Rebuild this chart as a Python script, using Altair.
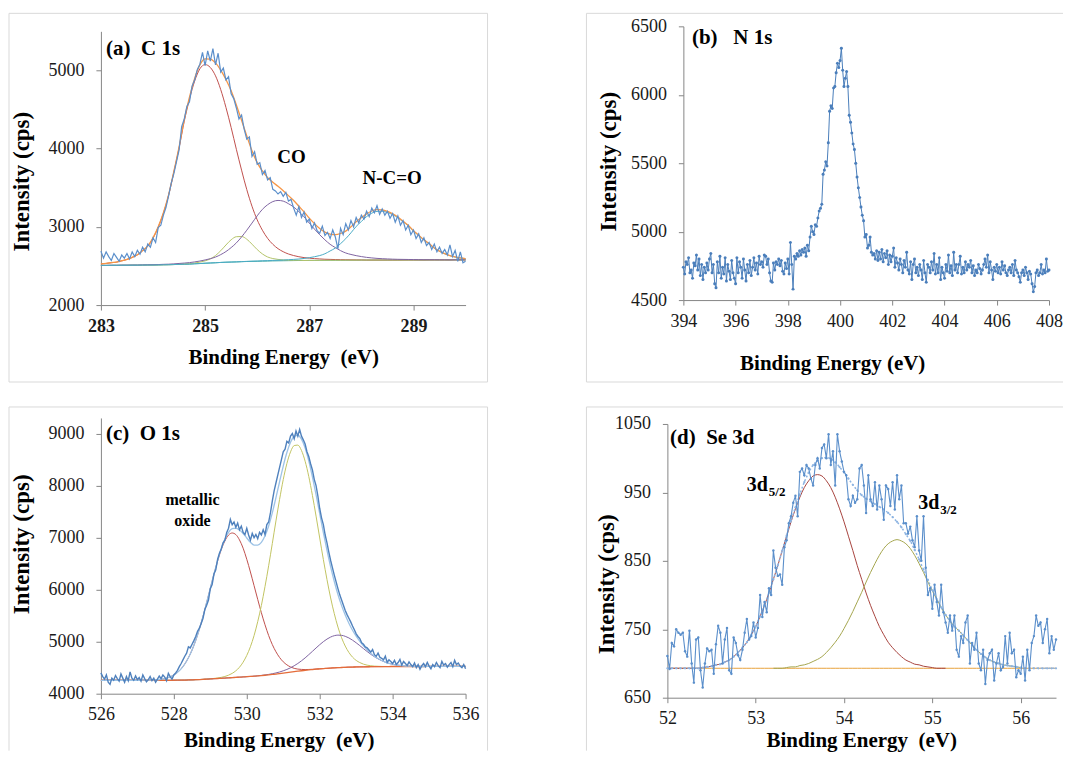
import altair as alt
import numpy as np
import pandas as pd

FONT = "Liberation Serif"
AXIS_GRAY = "#868686"
FRAME_GRAY = "#D9D9D9"
TXT = "#000000"

# ---------------- (a) C 1s ----------------
a_start, a_step = 283.0, 0.05
a_counts = [
    2690, 2600, 2680, 2620, 2570, 2660, 2610, 2560, 2640, 2600,
    2660, 2590, 2680, 2620, 2700, 2650, 2740, 2680, 2780, 2740,
    2860, 2800, 2990, 3020, 3150, 3250, 3400, 3560, 3680, 3830,
    3980, 4280, 4380, 4540, 4600, 4800, 4880, 5010, 5080, 5230,
    5060, 5250, 5120, 5280, 5070, 5220, 4980, 5030, 4880, 4920,
    4700, 4640, 4520, 4380, 4430, 4250, 4120, 4150, 3900, 3960,
    3800, 3820, 3670, 3720, 3600, 3630, 3480, 3460, 3420, 3450,
    3390, 3440, 3330, 3350, 3240, 3150, 3260, 3120, 3190, 3060,
    3100, 2980, 3050, 2950, 2920, 3010, 2890, 2930, 2850, 2960,
    2870, 2720, 2980, 2900, 3040, 2960, 3080, 3000, 3120, 3050,
    3150, 3100, 3200, 3130, 3240, 3180, 3270, 3160, 3230, 3150,
    3200, 3110, 3170, 3060, 3140, 3020, 3080, 2960, 3020, 2900,
    2960, 2850, 2910, 2800, 2860, 2760, 2800, 2710, 2780, 2680,
    2740, 2660, 2710, 2640, 2770, 2620, 2700, 2560, 2680, 2540,
    2560]
a_fit_start, a_fit_step = 283.0, 0.1
a_background = [
    2507, 2507, 2508, 2508, 2509, 2509, 2510, 2510, 2511, 2512,
    2512, 2513, 2515, 2516, 2518, 2520, 2522, 2524, 2528, 2531,
    2535, 2538, 2541, 2545, 2548, 2550, 2552, 2555, 2557, 2559,
    2560, 2562, 2563, 2565, 2566, 2567, 2568, 2569, 2570, 2570,
    2571, 2571, 2572, 2572, 2573, 2573, 2573, 2574, 2574, 2574,
    2575, 2575, 2575, 2575, 2575, 2575, 2575, 2575, 2576, 2576,
    2576, 2576, 2576, 2577, 2577, 2577, 2577, 2577, 2578, 2578,
    2578]
a_cc = [
    2527, 2532, 2541, 2549, 2565, 2583, 2609, 2642, 2694, 2753,
    2855, 2996, 3175, 3405, 3699, 4006, 4351, 4632, 4865, 5021,
    5075, 5038, 4931, 4755, 4528, 4270, 3992, 3725, 3477, 3264,
    3090, 2957, 2853, 2777, 2721, 2682, 2653, 2633, 2618, 2607,
    2600, 2594, 2590, 2586, 2584, 2582, 2580, 2579, 2578, 2577,
    2577, 2575, 2575, 2575, 2575, 2575, 2575, 2575, 2576, 2576,
    2576, 2576, 2576, 2577, 2577, 2577, 2577, 2577, 2578, 2578,
    2578]
a_small = [
    2507, 2507, 2508, 2508, 2509, 2509, 2510, 2510, 2511, 2512,
    2512, 2513, 2515, 2516, 2518, 2523, 2526, 2530, 2538, 2549,
    2565, 2590, 2633, 2695, 2768, 2835, 2874, 2877, 2842, 2779,
    2710, 2654, 2615, 2595, 2584, 2577, 2574, 2573, 2573, 2570,
    2571, 2571, 2572, 2572, 2573, 2573, 2573, 2574, 2574, 2574,
    2575, 2575, 2575, 2575, 2575, 2575, 2575, 2575, 2576, 2576,
    2576, 2576, 2576, 2577, 2577, 2577, 2577, 2577, 2578, 2578,
    2578]
a_co = [
    2508, 2508, 2509, 2509, 2511, 2511, 2512, 2512, 2514, 2515,
    2516, 2518, 2521, 2523, 2527, 2532, 2537, 2543, 2552, 2563,
    2577, 2593, 2614, 2645, 2684, 2735, 2795, 2871, 2957, 3048,
    3141, 3224, 3283, 3323, 3338, 3329, 3296, 3254, 3194, 3128,
    3048, 2971, 2899, 2834, 2777, 2735, 2696, 2666, 2647, 2632,
    2620, 2610, 2603, 2597, 2593, 2590, 2587, 2585, 2584, 2583,
    2582, 2581, 2580, 2580, 2580, 2579, 2579, 2578, 2579, 2579,
    2578]
a_nco = [
    2507, 2507, 2508, 2508, 2509, 2509, 2510, 2510, 2511, 2512,
    2512, 2513, 2515, 2516, 2518, 2520, 2522, 2524, 2528, 2531,
    2535, 2538, 2541, 2545, 2548, 2550, 2552, 2555, 2559, 2561,
    2563, 2566, 2568, 2571, 2573, 2576, 2580, 2584, 2589, 2596,
    2606, 2618, 2633, 2656, 2692, 2729, 2785, 2849, 2924, 3005,
    3069, 3131, 3175, 3198, 3199, 3184, 3156, 3116, 3064, 3014,
    2945, 2889, 2832, 2783, 2727, 2687, 2655, 2631, 2614, 2602,
    2593]
a_envelope = [
    2528, 2533, 2542, 2550, 2567, 2585, 2611, 2644, 2697, 2756,
    2859, 3001, 3181, 3412, 3708, 4021, 4370, 4657, 4899, 5071,
    5147, 5145, 5096, 5005, 4884, 4740, 4557, 4363, 4162, 3973,
    3821, 3715, 3630, 3571, 3518, 3463, 3399, 3337, 3264, 3191,
    3112, 3041, 2978, 2932, 2907, 2900, 2915, 2946, 3001, 3066,
    3116, 3166, 3203, 3220, 3217, 3199, 3168, 3126, 3072, 3021,
    2951, 2894, 2836, 2786, 2730, 2689, 2657, 2632, 2615, 2603,
    2593]
a_xticks = [283, 285, 287, 289]
a_yticks = [2000, 3000, 4000, 5000]
a_note_E = [286.66, 288.59]
a_note_I = [3894, 3626]
a_note_t = ["CO", "N-C=O"]

# ---------------- (b) N 1s ----------------
b_start, b_step = 394.0, 0.05
b_counts = [
    4740, 4690, 4780, 4760, 4810, 4700, 4720, 4660, 4770, 4750,
    4830, 4720, 4800, 4680, 4760, 4650, 4740, 4700, 4770, 4720,
    4800, 4840, 4700, 4760, 4620, 4590, 4780, 4700, 4820, 4660,
    4740, 4690, 4810, 4640, 4760, 4710, 4650, 4790, 4700, 4660,
    4620, 4810, 4700, 4780, 4740, 4660, 4800, 4720, 4640, 4760,
    4700, 4790, 4680, 4740, 4810, 4720, 4770, 4690, 4820, 4760,
    4780, 4740, 4830, 4820, 4760, 4800, 4700, 4640, 4630, 4770,
    4720, 4780, 4760, 4800, 4750, 4790, 4710, 4690, 4770, 4730,
    4800, 4690, 4920, 4760, 4580, 4820, 4800, 4840, 4820, 4860,
    4830, 4870, 4850, 4880, 4820, 4900, 4860, 4960, 5040, 5000,
    4980, 5050, 5040, 5100, 5150, 5170, 5200, 5420, 5450, 5510,
    5480, 5650, 5880, 5920, 5900, 6050, 6060, 6160, 6230, 6200,
    6250, 6340, 6180, 6060, 6120, 6170, 6060, 5850, 5800, 5720,
    5640, 5600, 5500, 5400, 5320, 5250, 5180, 5120, 5080, 4960,
    4980, 4880, 4900, 4960, 4850, 4830, 4840, 4800, 4860, 4790,
    4850, 4800, 4870, 4780, 4840, 4810, 4860, 4760, 4830, 4780,
    4820, 4880, 4740, 4810, 4770, 4720, 4800, 4760, 4700, 4790,
    4740, 4850, 4720, 4690, 4780, 4650, 4760, 4800, 4700, 4740,
    4680, 4760, 4720, 4650, 4790, 4700, 4630, 4760, 4740, 4700,
    4780, 4720, 4840, 4690, 4760, 4700, 4810, 4650, 4740, 4700,
    4660, 4760, 4710, 4830, 4700, 4750, 4680, 4850, 4720, 4760,
    4700, 4760, 4820, 4690, 4740, 4700, 4780, 4720, 4760, 4740,
    4790, 4700, 4750, 4680, 4720, 4700, 4760, 4730, 4690, 4720,
    4760, 4800, 4740, 4830, 4700, 4780, 4720, 4650, 4740, 4710,
    4760, 4700, 4740, 4690, 4780, 4720, 4750, 4700, 4680, 4720,
    4740, 4700, 4760, 4680, 4790, 4720, 4700, 4670, 4630, 4700,
    4720, 4680, 4740, 4700, 4650, 4710, 4690, 4620, 4560, 4600,
    4700, 4720, 4680, 4700, 4760, 4690, 4720, 4700, 4800, 4710,
    4720]
b_xticks = [394, 396, 398, 400, 402, 404, 406, 408]
b_yticks = [4500, 5000, 5500, 6000, 6500]

# ---------------- (c) O 1s ----------------
c_start, c_step = 526.0, 0.05
c_counts = [
    4400, 4330, 4280, 4360, 4220, 4180, 4300, 4260, 4350, 4290,
    4240, 4380, 4300, 4220, 4330, 4250, 4420, 4300, 4260, 4340,
    4270, 4310, 4240, 4360, 4290, 4230, 4270, 4330, 4250, 4300,
    4220, 4280, 4340, 4290, 4360, 4320, 4250, 4390, 4330, 4280,
    4360, 4400, 4450, 4520, 4580, 4650, 4720, 4780, 4900, 4880,
    4950, 5020, 5100, 5200, 5260, 5350, 5450, 5620, 5700, 5800,
    6020, 6100, 6300, 6380, 6580, 6700, 6780, 6900, 6950, 7100,
    7180, 7350, 7250, 7300, 7200, 7280, 7150, 7220, 7100, 7060,
    7180, 7050, 6950, 7080, 7000, 7060, 6980, 7100, 7050, 7150,
    7060, 7250, 7300, 7480, 7700, 7900, 8050, 8200, 8350, 8500,
    8650, 8700, 8850, 8820, 8950, 9000, 8900, 9050, 8950, 9080,
    8950, 8880, 8800, 8650, 8560, 8420, 8300, 8120, 8000, 7800,
    7560, 7380, 7250, 7050, 6900, 6720, 6560, 6420, 6280, 6150,
    6020, 5900, 5800, 5700, 5600, 5520, 5450, 5380, 5300, 5230,
    5150, 5100, 5060, 4980, 4950, 4900, 4880, 4840, 4800, 4850,
    4750, 4720, 4780, 4700, 4680, 4650, 4720, 4600, 4650, 4620,
    4580, 4640, 4560, 4600, 4660, 4550, 4620, 4580, 4540, 4610,
    4560, 4520, 4590, 4500, 4560, 4470, 4540, 4580, 4520, 4600,
    4530, 4480, 4560, 4520, 4600, 4540, 4500, 4620, 4550, 4580,
    4510, 4560, 4600, 4520, 4640, 4560, 4590, 4530, 4500, 4560,
    4480]
c_fit_start, c_fit_step = 526.0, 0.1
c_background = [
    4258, 4258, 4258, 4258, 4258, 4258, 4258, 4258, 4258, 4258,
    4258, 4258, 4258, 4258, 4258, 4258, 4258, 4258, 4258, 4258,
    4259, 4260, 4261, 4262, 4264, 4266, 4269, 4272, 4276, 4280,
    4284, 4288, 4292, 4296, 4300, 4305, 4309, 4314, 4318, 4323,
    4327, 4332, 4337, 4342, 4348, 4355, 4362, 4370, 4378, 4387,
    4396, 4405, 4414, 4423, 4432, 4441, 4449, 4457, 4464, 4471,
    4477, 4483, 4488, 4493, 4497, 4501, 4504, 4507, 4510, 4512,
    4514, 4516, 4517, 4518, 4519, 4520, 4521, 4521, 4522, 4522,
    4523, 4523, 4523, 4523, 4523, 4523, 4523, 4523, 4523, 4523,
    4524, 4524, 4524, 4524, 4524, 4524, 4525, 4525, 4525, 4525,
    4525]
c_oxide = [
    4258, 4258, 4258, 4258, 4258, 4258, 4258, 4258, 4258, 4258,
    4258, 4258, 4260, 4261, 4263, 4267, 4273, 4284, 4299, 4322,
    4359, 4410, 4478, 4571, 4692, 4841, 5025, 5242, 5485, 5751,
    6024, 6295, 6549, 6770, 6938, 7049, 7089, 7058, 6956, 6797,
    6584, 6339, 6077, 5813, 5557, 5325, 5118, 4945, 4806, 4696,
    4613, 4555, 4514, 4487, 4473, 4467, 4464, 4466, 4469, 4474,
    4479, 4483, 4488, 4493, 4497, 4501, 4504, 4507, 4510, 4512,
    4514, 4516, 4517, 4518, 4519, 4520, 4521, 4521, 4522, 4522,
    4523, 4523, 4523, 4523, 4523, 4523, 4523, 4523, 4523, 4523,
    4524, 4524, 4524, 4524, 4524, 4524, 4525, 4525, 4525, 4525,
    4525]
c_main = [
    4258, 4258, 4258, 4258, 4258, 4258, 4258, 4258, 4258, 4258,
    4258, 4258, 4258, 4258, 4258, 4258, 4258, 4258, 4258, 4258,
    4259, 4260, 4261, 4262, 4264, 4266, 4269, 4272, 4276, 4282,
    4287, 4294, 4302, 4314, 4331, 4356, 4391, 4440, 4509, 4606,
    4736, 4903, 5117, 5384, 5695, 6060, 6459, 6886, 7321, 7735,
    8115, 8425, 8648, 8769, 8778, 8675, 8469, 8176, 7812, 7414,
    6993, 6580, 6193, 5840, 5539, 5281, 5075, 4916, 4793, 4703,
    4640, 4598, 4568, 4549, 4537, 4530, 4527, 4524, 4524, 4522,
    4523, 4523, 4523, 4523, 4523, 4523, 4523, 4523, 4523, 4523,
    4524, 4524, 4524, 4524, 4524, 4524, 4525, 4525, 4525, 4525,
    4525]
c_high = [
    4258, 4258, 4258, 4258, 4258, 4258, 4258, 4258, 4258, 4258,
    4258, 4258, 4258, 4258, 4258, 4258, 4258, 4258, 4258, 4258,
    4259, 4260, 4261, 4262, 4264, 4266, 4269, 4272, 4276, 4280,
    4284, 4288, 4292, 4296, 4300, 4305, 4309, 4314, 4318, 4323,
    4327, 4332, 4337, 4344, 4352, 4361, 4371, 4384, 4399, 4417,
    4440, 4466, 4498, 4537, 4581, 4632, 4688, 4750, 4814, 4879,
    4942, 5000, 5050, 5089, 5115, 5126, 5122, 5103, 5072, 5029,
    4979, 4924, 4867, 4811, 4758, 4711, 4670, 4635, 4606, 4583,
    4567, 4553, 4544, 4537, 4532, 4529, 4527, 4525, 4523, 4523,
    4524, 4524, 4524, 4524, 4524, 4524, 4525, 4525, 4525, 4525,
    4525]
c_envelope = [
    4258, 4258, 4258, 4258, 4258, 4258, 4258, 4258, 4258, 4258,
    4258, 4259, 4260, 4261, 4263, 4267, 4273, 4284, 4299, 4322,
    4359, 4410, 4478, 4571, 4692, 4841, 5025, 5242, 5485, 5753,
    6027, 6301, 6559, 6788, 6969, 7100, 7171, 7184, 7147, 7080,
    6993, 6910, 6857, 6857, 6908, 7036, 7224, 7475, 7770, 8074,
    8376, 8636, 8832, 8947, 8968, 8892, 8723, 8478, 8167, 7825,
    7460, 7097, 6755, 6436, 6157, 5906, 5693, 5512, 5355, 5220,
    5105, 5006, 4918, 4842, 4776, 4721, 4676, 4638, 4608, 4583,
    4567, 4553, 4544, 4537, 4532, 4529, 4527, 4525, 4523, 4523,
    4524, 4524, 4524, 4524, 4524, 4524, 4525, 4525, 4525, 4525,
    4525]
c_xticks = [526, 528, 530, 532, 534, 536]
c_yticks = [4000, 5000, 6000, 7000, 8000, 9000]
c_note_E = [528.51, 528.51]
c_note_I = [7722, 7327]
c_note_t = ["metallic", "oxide"]

# ---------------- (d) Se 3d ----------------
d_start, d_step = 52.0, 0.025
d_counts = [
    711, 692, 730, 725, 750, 745, 742, 745, 718, 710,
    748, 700, 672, 735, 738, 690, 665, 700, 722, 718,
    720, 685, 728, 755, 745, 700, 735, 752, 690, 685,
    738, 730, 712, 705, 720, 745, 765, 735, 740, 760,
    738, 752, 800, 768, 790, 775, 810, 800, 865, 840,
    828, 830, 815, 870, 880, 905, 915, 935, 945, 915,
    980, 985, 975, 990, 985, 970, 960, 990, 1000, 985,
    1015, 1020, 1000, 1035, 990, 1010, 960, 1035, 1010, 995,
    980, 975, 940, 930, 945, 935, 940, 985, 990, 960,
    920, 975, 940, 930, 965, 925, 960, 940, 910, 960,
    955, 930, 965, 925, 975, 940, 960, 905, 905, 890,
    900, 880, 870, 915, 865, 850, 915, 840, 800, 810,
    780, 815, 790, 770, 815, 775, 760, 745, 770, 748,
    770, 720, 710, 740, 730, 760, 770, 700, 730, 720,
    745, 700, 690, 720, 670, 705, 715, 720, 675, 700,
    715, 690, 695, 740, 700, 745, 715, 720, 680, 690,
    685, 710, 675, 720, 690, 730, 740, 770, 755, 760,
    730, 750, 765, 715, 740, 720, 735]
d_fit_step = 0.05
d_background_start = 52.0
d_background = [693] * 89
d_5_2_start = 52.0
d_5_2 = [
    693, 693, 693, 693, 693, 693, 693, 693, 694, 695,
    696, 698, 699, 702, 705, 710, 716, 723, 731, 742,
    754, 769, 785, 803, 823, 843, 865, 886, 907, 926,
    943, 957, 967, 974, 976, 974, 967, 957, 943, 926,
    907, 886, 865, 843, 823, 803, 785, 769, 754, 742,
    731, 723, 716, 710, 705, 702, 699, 698, 696, 695,
    694, 693, 693, 693]
d_3_2_start = 53.2
d_3_2 = [
    693, 693, 693, 694, 695, 695, 697, 698, 700, 703,
    706, 710, 716, 723, 731, 740, 751, 763, 776, 790,
    804, 819, 833, 846, 858, 868, 875, 879, 881, 879,
    875, 868, 858, 846, 833, 819, 806, 794, 782, 771,
    762, 754, 748, 741, 734, 727, 720, 714, 709, 705,
    702, 700, 698, 697, 696, 695, 694]
d_env_start = 52.0
d_envelope = [
    693, 693, 693, 693, 693, 693, 693, 693, 694, 695,
    696, 698, 699, 702, 705, 710, 716, 723, 731, 742,
    754, 769, 785, 803, 823, 843, 865, 887, 909, 928,
    947, 965, 979, 990, 996, 1000, 1001, 999, 994, 987,
    979, 970, 961, 953, 946, 941, 937, 933, 929, 925,
    920, 914, 907, 899, 889, 879, 866, 852, 837, 822,
    807, 794, 782, 771, 762, 754, 748, 741, 734, 727,
    720, 714, 709, 705, 702, 700, 698, 697, 696, 695,
    694, 693, 693, 693, 693, 693, 693, 693, 693]
d_xticks = [52, 53, 54, 55, 56]
d_yticks = [650, 750, 850, 950, 1050]
d_sub_E = [52.9, 54.84]
d_sub_I = [961, 935]


# ---------------- helpers ----------------
def energies(start, step, n):
    return np.round(start + step * np.arange(n), 3)


def series(start, step, values):
    return pd.DataFrame({"E": energies(start, step, len(values)), "I": values})


def x_enc(domain, rng, ticks, title, title_x, title_y, offset=0, bold=False):
    return alt.X(
        "E:Q",
        scale=alt.Scale(domain=domain, range=rng, nice=False, zero=False),
        axis=alt.Axis(
            values=ticks, format="d", title=title, titleX=title_x, titleY=title_y,
            offset=offset,
            titleFont=FONT, titleFontSize=21, titleFontWeight="bold", titleColor=TXT,
            labelFont=FONT, labelFontSize=18, labelFontWeight="bold" if bold else "normal",
            labelColor="#1a1a1a", labelPadding=7, labelFlush=False, labelOverlap=False,
            tickSize=5, tickColor=AXIS_GRAY, domainColor=AXIS_GRAY, grid=False,
        ),
    )


def y_enc(domain, rng, ticks, title_x, title_y, offset=0):
    return alt.Y(
        "I:Q",
        scale=alt.Scale(domain=domain, range=rng, nice=False, zero=False),
        axis=alt.Axis(
            values=ticks, format="d", title="Intensity (cps)", titleX=title_x, titleY=title_y,
            offset=offset,
            titleFont=FONT, titleFontSize=23, titleFontWeight="bold", titleColor=TXT,
            labelFont=FONT, labelFontSize=18, labelColor="#1a1a1a", labelPadding=12,
            labelOverlap=False, tickSize=5, tickColor=AXIS_GRAY, domainColor=AXIS_GRAY, grid=False,
        ),
    )


def line(df, x, y, color, width=1.0, interp="monotone", dash=None):
    kw = dict(color=color, strokeWidth=width, interpolate=interp)
    if dash:
        kw["strokeDash"] = dash
    return alt.Chart(df).mark_line(**kw).encode(x=x, y=y)


def dots(df, x, y, color, size):
    return alt.Chart(df).mark_circle(color=color, size=size, opacity=1).encode(x=x, y=y)


def text(df, x, y, size, align="center", dx=0, dy=0):
    return alt.Chart(df).mark_text(
        font=FONT, fontSize=size, fontWeight="bold", color=TXT,
        align=align, baseline="middle", dx=dx, dy=dy,
    ).encode(x=x, y=y, text="t:N")


def frame(segments):
    base = alt.Chart(alt.Data(values=[{"k": 0}]))
    return [
        base.mark_rule(color=FRAME_GRAY, strokeWidth=1).encode(
            x=alt.value(x1), x2=alt.value(x2), y=alt.value(y1), y2=alt.value(y2))
        for (x1, x2, y1, y2) in segments
    ]


NBSP = "\u00a0"
EV2 = "Binding Energy" + NBSP + NBSP + "(eV)"

# layout grid (flush): column views 365 / 389 wide, row views 279 / 280 tall
COL0_W, COL1_W = 365, 389
ROW0_H, ROW1_H = 279, 280

# ---------------- panel (a) ----------------
ax = x_enc([283, 290], [0, 365], a_xticks, EV2, 182.5, 41, bold=True)
ay = y_enc([2000, 5500], [279, 5], a_yticks, -67, 155)
pa = alt.layer(
    *frame([(-92, 387, -13, -13), (-92, 387, 356, 356), (-92, -92, -13, 356), (387, 387, -13, 356)]),
    line(series(a_fit_start, a_fit_step, a_background), ax, ay, "#3AA6A0"),
    line(series(a_fit_start, a_fit_step, a_cc), ax, ay, "#C0504D"),
    line(series(a_fit_start, a_fit_step, a_small), ax, ay, "#B5C46A"),
    line(series(a_fit_start, a_fit_step, a_co), ax, ay, "#8064A2"),
    line(series(a_fit_start, a_fit_step, a_nco), ax, ay, "#4BACC6"),
    line(series(a_fit_start, a_fit_step, a_envelope), ax, ay, "#F79646", 1.3),
    line(series(a_start, a_step, a_counts), ax, ay, "#5B8FCB", 1.2, "linear"),
    text(pd.DataFrame({"E": [283.1], "I": [5276], "t": ["(a)" + NBSP + NBSP + "C 1s"]}), ax, ay, 21, "left"),
    text(pd.DataFrame({"E": a_note_E, "I": a_note_I, "t": a_note_t}), ax, ay, 19),
).properties(width=COL0_W, height=ROW0_H)

# ---------------- panel (b) ----------------
bx = x_enc([394, 408], [16, 382], b_xticks, "Binding Energy (eV)", 165, 52, offset=-5)
by = y_enc([4500, 6500], [274, 0], b_yticks, -63, 135, offset=-16)
b_df = series(b_start, b_step, b_counts)
pb = alt.layer(
    *frame([(-81, 396, -13, -13), (-81, 396, 356, 356), (-81, -81, -13, 356)]),
    line(b_df, bx, by, "#4A7EBB", 1.0, "linear"),
    dots(b_df, bx, by, "#4A7EBB", 9),
    text(pd.DataFrame({"E": [394.33], "I": [6415], "t": ["(b)" + NBSP + NBSP + NBSP + "N 1s"]}), bx, by, 21, "left"),
).properties(width=COL1_W, height=ROW0_H)

# ---------------- panel (c) ----------------
cx = x_enc([526, 536], [0, 365], c_xticks, EV2, 178, 36, offset=-4)
cy = y_enc([4000, 9300], [276, 0], c_yticks, -67, 126)
pc = alt.layer(
    *frame([(-92, 387, -11, -11), (-92, -92, -11, 333), (387, 387, -11, 333)]),
    line(series(c_fit_start, c_fit_step, c_oxide), cx, cy, "#C0504D"),
    line(series(c_fit_start, c_fit_step, c_main), cx, cy, "#C2C462"),
    line(series(c_fit_start, c_fit_step, c_high), cx, cy, "#8064A2"),
    line(series(c_fit_start, c_fit_step, c_background), cx, cy, "#E46C3A", 1.3),
    line(series(c_fit_start, c_fit_step, c_envelope), cx, cy, "#9DC3E6", 1.3),
    line(series(c_start, c_step, c_counts), cx, cy, "#4F81BD", 1.4, "linear"),
    text(pd.DataFrame({"E": [526.14], "I": [8987], "t": ["(c)" + NBSP + NBSP + "O 1s"]}), cx, cy, 21, "left"),
    text(pd.DataFrame({"E": c_note_E, "I": c_note_I, "t": c_note_t}), cx, cy, 16),
).properties(width=COL0_W, height=ROW1_H)

# ---------------- panel (d) ----------------
dxe = x_enc([52, 56.4], [0, 389], d_xticks, EV2, 194, 32)
dye = y_enc([650, 1050], [280, 6], d_yticks, -49, 166)
d_df = series(d_start, d_step, d_counts)
d_env_df = series(d_env_start, d_fit_step, d_envelope)
sub_df = pd.DataFrame({"E": d_sub_E, "I": d_sub_I, "t": ["3d", "3d"]})
sub_df2 = pd.DataFrame({"E": d_sub_E, "I": d_sub_I, "t": ["5/2", "3/2"]})
pd_ = alt.layer(
    *frame([(-81, 396, -11, -11), (-81, -81, -11, 333)]),
    line(series(d_background_start, d_fit_step, d_background), dxe, dye, "#E8A33C"),
    line(series(d_5_2_start, d_fit_step, d_5_2), dxe, dye, "#A8443F"),
    line(series(d_3_2_start, d_fit_step, d_3_2), dxe, dye, "#A5A64E"),
    line(d_env_df, dxe, dye, "#8DB4E2", 1.5, "monotone", [2, 2]),
    dots(d_env_df, dxe, dye, "#8DB4E2", 5),
    line(d_df, dxe, dye, "#5B8FCB", 1.1, "linear"),
    dots(d_df, dxe, dye, "#5B8FCB", 6),
    text(pd.DataFrame({"E": [52.03], "I": [1030], "t": ["(d)" + NBSP + NBSP + "Se 3d"]}), dxe, dye, 21, "left"),
    text(sub_df, dxe, dye, 20, "left"),
    text(sub_df2, dxe, dye, 13, "left", dx=22, dy=7),
).properties(width=COL1_W, height=ROW1_H)

chart = alt.concat(
    pa, pb, pc, pd_, columns=2, spacing={"row": 113, "column": 202},
    align="each", bounds="flush",
).properties(
    padding={"left": 0, "top": 4, "right": 0, "bottom": 0}
).configure(font=FONT).configure_view(stroke=None)

chart.save("out.html", embed_options={"renderer": "svg", "actions": False})
